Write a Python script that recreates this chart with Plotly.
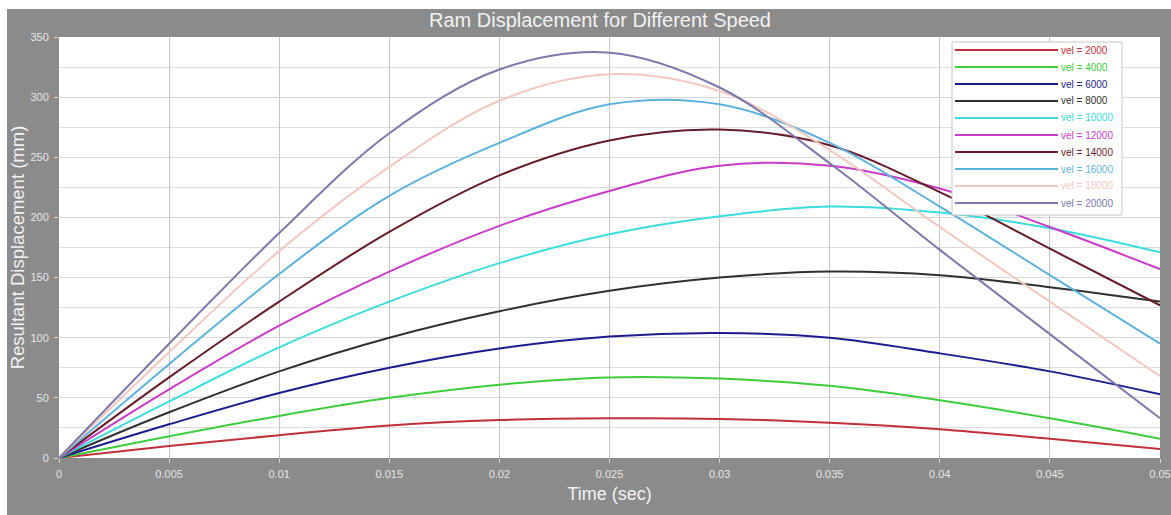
import plotly.graph_objects as go

# ---- data ----
time_s = [0, 0.005, 0.01, 0.015, 0.02, 0.025, 0.03, 0.035, 0.04, 0.045, 0.05]
vel_labels = ["vel = 2000", "vel = 4000", "vel = 6000", "vel = 8000", "vel = 10000",
              "vel = 12000", "vel = 14000", "vel = 16000", "vel = 18000", "vel = 20000"]
disp_2000 = [0, 10, 19, 27, 31.5, 33, 32.5, 29.3, 24, 16, 7.5]
disp_4000 = [0, 18, 35, 50, 61, 67, 66, 60, 48, 33, 16]
disp_6000 = [0, 28, 54, 75, 91, 101, 104, 100, 87, 72, 53]
disp_8000 = [0, 38, 72, 100, 122, 139, 150, 155, 152, 142, 130]
disp_10000 = [0, 47, 92, 130, 162, 186, 201, 209, 204, 191, 171]
disp_12000 = [0, 57, 110, 155, 193, 222, 243, 243, 224, 192, 157]
disp_14000 = [0, 67, 130, 188, 235, 264, 273, 260, 221, 174, 127]
disp_16000 = [0, 78, 153, 218, 262, 294, 294, 262, 209, 152, 95]
disp_18000 = [0, 88, 172, 242, 297, 319, 305, 256, 192, 130, 68]
disp_20000 = [0, 95, 187, 270, 323, 337, 308, 245, 173, 103, 33]
series = [disp_2000, disp_4000, disp_6000, disp_8000, disp_10000,
          disp_12000, disp_14000, disp_16000, disp_18000, disp_20000]
colors = ["#c0303a", "#3ccc3c", "#1c1c8e", "#303030", "#3cdcdc",
          "#c83cc8", "#661c28", "#5cb2dc", "#f0c8c0", "#7c78aa"]

# ---- layout geometry (pixels) ----
W, H = 1171, 515
L, R, T, B = 59, 11, 37, 57
PW, PH = W - L - R, H - T - B
def px(x):
    return (x - L) / PW
def py(y):
    return (H - B - y) / PH

fig = go.Figure()
for name, ys, c in zip(vel_labels, series, colors):
    fig.add_trace(go.Scatter(x=time_s, y=ys, mode="lines", name=name,
                             line=dict(color=c, width=2, shape="spline", smoothing=1.0),
                             showlegend=False))

shapes = []
# white outer border strips (top and left) around the grey frame
shapes.append(dict(type="rect", xref="paper", yref="paper", layer="above",
                   x0=px(-5), x1=px(7), y0=py(530), y1=py(-5),
                   fillcolor="white", line=dict(width=0)))
shapes.append(dict(type="rect", xref="paper", yref="paper", layer="above",
                   x0=px(-5), x1=px(1180), y0=py(9), y1=py(-5),
                   fillcolor="white", line=dict(width=0)))
# manual legend box
lx0, lx1, ly0, ly1 = 952, 1122, 42, 215
shapes.append(dict(type="rect", xref="paper", yref="paper", layer="above",
                   x0=px(lx0), x1=px(lx1), y0=py(ly1), y1=py(ly0),
                   fillcolor="white", line=dict(color="#c8c8c8", width=1)))
annotations = []
for i, (name, c) in enumerate(zip(vel_labels, colors)):
    yy = 50 + i * 17
    shapes.append(dict(type="line", xref="paper", yref="paper", layer="above",
                       x0=px(955), x1=px(1058), y0=py(yy), y1=py(yy),
                       line=dict(color=c, width=2)))
    annotations.append(dict(xref="paper", yref="paper", x=px(1059), y=py(yy),
                            text=name, showarrow=False, xanchor="left", yanchor="middle",
                            font=dict(size=10, color=c, family="Arial")))

tickfont = dict(size=11, color="#e6e6e6", family="Arial")
fig.update_layout(
    width=W, height=H, autosize=False,
    margin=dict(l=L, r=R, t=T, b=B, pad=0, autoexpand=False),
    paper_bgcolor="#8b8b8b", plot_bgcolor="white",
    title=dict(text="Ram Displacement for Different Speed", x=600 / W, xanchor="center",
               y=1 - 20 / H, yanchor="middle",
               font=dict(size=20, color="#f2f2f2", family="Arial")),
    shapes=shapes, annotations=annotations,
    xaxis=dict(range=[0, 0.05], dtick=0.005, tick0=0, showgrid=True, gridcolor="#c4c4c4",
               gridwidth=1, zeroline=False, ticks="outside", ticklen=4, tickcolor="#d8d8d8",
               ticklabelstandoff=2,
               tickfont=tickfont, showline=False, automargin=False,
               title=dict(text="Time (sec)", standoff=8,
                          font=dict(size=18, color="#f2f2f2", family="Arial"))),
    yaxis=dict(range=[0, 350], dtick=50, tick0=0, showgrid=True, gridcolor="#d6d6d6",
               gridwidth=1, zeroline=False, ticks="outside", ticklen=4, tickcolor="#d8d8d8",
               ticklabelstandoff=3,
               tickfont=tickfont, showline=False, automargin=False,
               minor=dict(dtick=25, showgrid=True, gridcolor="#dcdcdc", gridwidth=1),
               title=dict(text="Resultant Displacement (mm)", standoff=0,
                          font=dict(size=18.5, color="#f2f2f2", family="Arial"))),
)
fig.write_html("out.html")
